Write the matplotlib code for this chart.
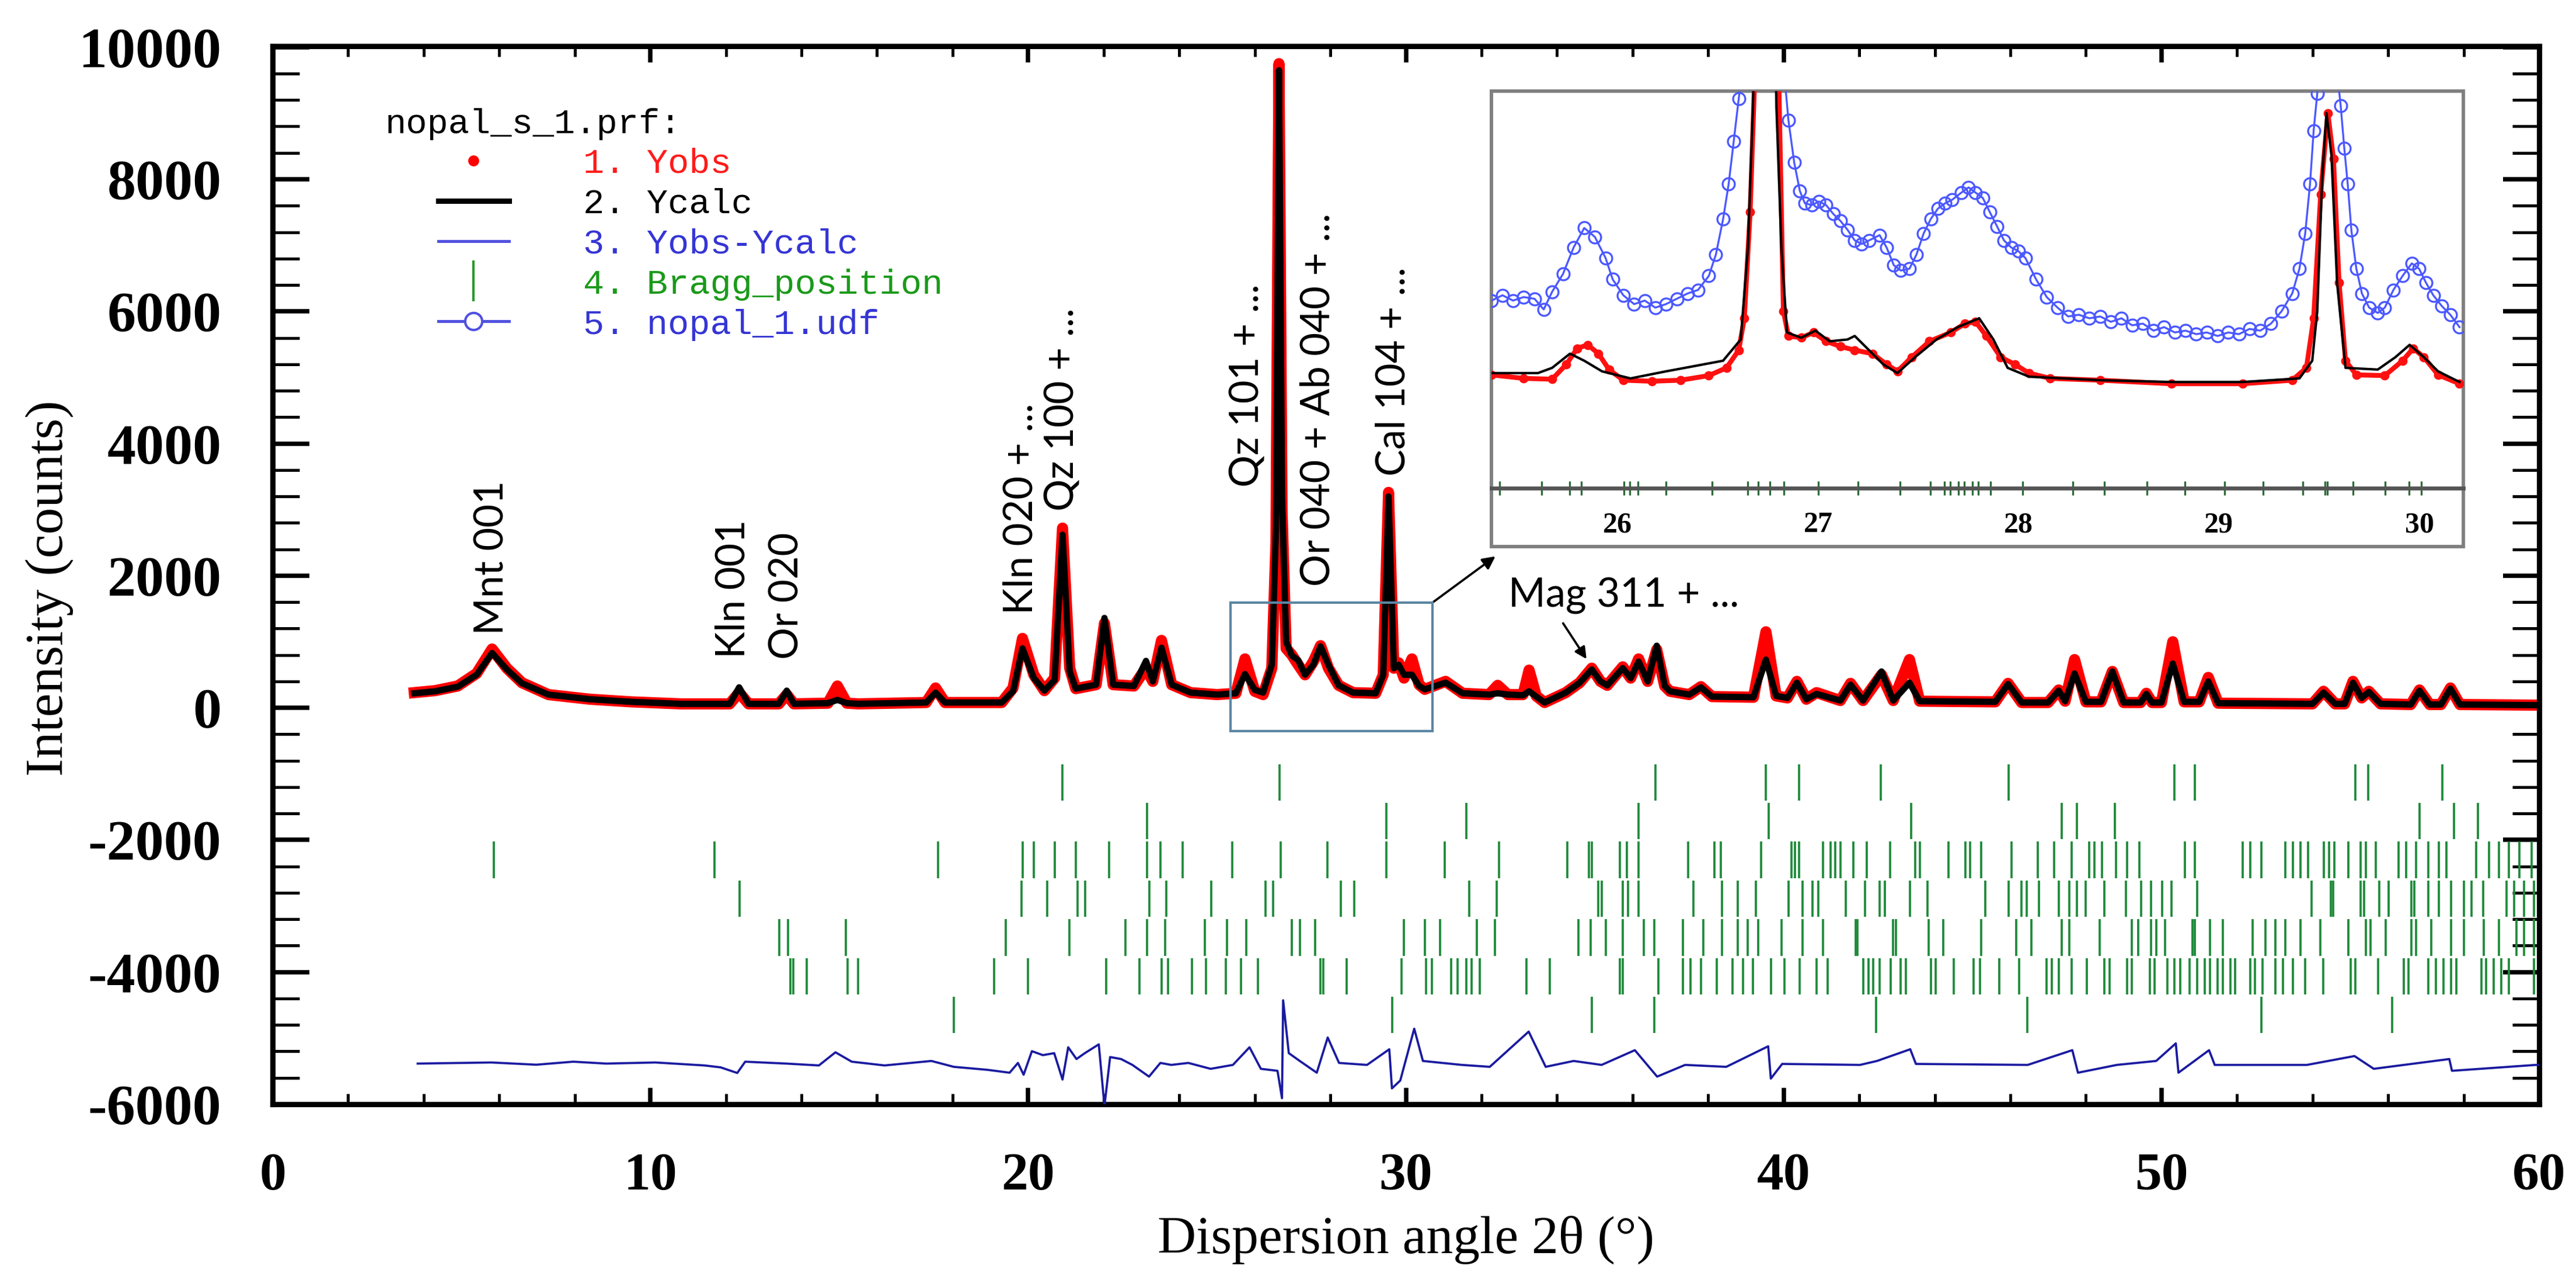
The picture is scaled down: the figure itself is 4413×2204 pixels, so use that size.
import matplotlib
matplotlib.use('Agg')
import matplotlib.pyplot as plt
from matplotlib.lines import Line2D
from matplotlib.patches import Rectangle

plt.rcParams['axes.unicode_minus'] = False

# ---------------- main Rietveld pattern (2theta in deg, counts) ----------------
two_theta = [3.75, 4.3, 4.9, 5.4, 5.81, 6.2, 6.6, 7.3, 8.4, 9.5, 10.8, 12.1, 12.35, 12.6,
             13.4, 13.61, 13.8, 14.7, 14.95, 15.2, 15.5, 17.3, 17.55, 17.8, 19.3, 19.6,
             19.85, 20.15, 20.43, 20.7, 20.91, 21.1, 21.26, 21.8, 22.02, 22.25, 22.8, 23.12,
             23.3, 23.53, 23.8, 24.3, 25.0, 25.5, 25.74, 26.0, 26.22, 26.45, 26.56, 26.64,
             26.72, 26.83, 26.98, 27.15, 27.33, 27.55, 27.74, 27.95, 28.22, 28.6, 29.2, 29.4,
             29.54, 29.68, 29.81, 29.95, 30.16, 30.35, 30.5, 31.05, 31.5, 32.2, 32.43, 32.7,
             33.1, 33.26, 33.45, 33.67, 34.23, 34.6, 34.92, 35.15, 35.33, 35.74, 35.95, 36.16,
             36.4, 36.64, 36.85, 36.99, 37.5, 37.81, 38.1, 39.2, 39.53, 39.8, 40.1, 40.35,
             40.6, 40.87, 41.5, 41.77, 42.1, 42.59, 42.9, 43.33, 43.6, 45.6, 45.94, 46.3,
             47.0, 47.28, 47.45, 47.7, 48.0, 48.4, 48.7, 49.0, 49.45, 49.6, 49.75, 50.0,
             50.3, 50.6, 51.0, 51.24, 51.5, 54.0, 54.29, 54.6, 54.85, 55.07, 55.3, 55.49,
             55.8, 56.6, 56.83, 57.1, 57.4, 57.65, 57.9, 60.0]
y_obs = [230, 260, 330, 520, 890, 600, 380, 200, 130, 90, 60, 60, 230, 60,
         60, 200, 60, 70, 330, 70, 60, 80, 300, 80, 80, 300,
         1050, 500, 260, 450, 2720, 600, 290, 350, 1280, 350, 330, 600,
         400, 1020, 350, 230, 200, 220, 740, 250, 200, 600, 2500, 9750,
         3000, 900, 800, 650, 500, 700, 940, 600, 340, 230, 220, 500,
         3260, 600, 680, 450, 740, 350, 280, 400, 220, 200, 340, 200,
         200, 570, 180, 80, 230, 380, 600, 400, 340, 620, 450, 740,
         400, 880, 330, 250, 200, 320, 170, 160, 1150, 180, 150, 400,
         130, 230, 110, 370, 110, 500, 110, 730, 100, 90, 370, 80,
         80, 270, 100, 730, 90, 90, 550, 80, 80, 220, 80, 80,
         1000, 90, 90, 460, 70, 60, 250, 60, 60, 400, 150, 250,
         60, 50, 270, 50, 50, 300, 50, 40]
y_calc = [220, 250, 320, 500, 830, 580, 370, 200, 130, 90, 60, 60, 310, 60,
          60, 260, 60, 70, 120, 70, 60, 80, 230, 80, 80, 250,
          900, 450, 260, 420, 2620, 550, 290, 350, 1360, 350, 330, 710,
          400, 910, 350, 230, 200, 220, 510, 270, 230, 650, 2700, 9650,
          3200, 1000, 790, 720, 500, 650, 930, 650, 340, 230, 220, 500,
          3200, 600, 650, 500, 500, 330, 280, 380, 220, 200, 220, 200,
          190, 250, 170, 80, 230, 380, 580, 400, 340, 600, 450, 700,
          400, 940, 330, 250, 200, 310, 170, 160, 730, 180, 150, 380,
          130, 210, 110, 350, 110, 550, 110, 380, 100, 90, 360, 80,
          80, 260, 100, 520, 90, 90, 550, 80, 80, 210, 80, 80,
          670, 90, 90, 400, 70, 60, 230, 60, 60, 380, 150, 240,
          60, 50, 260, 50, 50, 290, 50, 40]

# difference curve Yobs-Ycalc, shifted down as in the plot
two_theta_diff = [3.84, 5.79, 6.98, 7.96, 8.83, 10.13, 11.43, 11.86, 12.30, 12.51, 13.60,
                  14.46, 14.90, 15.33, 16.2, 17.44, 18.03, 18.92, 19.51, 19.73, 19.88, 20.10,
                  20.39, 20.69, 20.91, 21.06, 21.28, 21.50, 21.87, 22.02, 22.17, 22.46, 22.76,
                  23.20, 23.50, 23.79, 24.24, 24.83, 25.42, 25.86, 26.16, 26.60, 26.72, 26.75,
                  26.90, 27.19, 27.64, 27.93, 28.23, 28.97, 29.56, 29.63, 29.85, 30.22, 30.45,
                  31.48, 32.22, 33.25, 33.70, 34.44, 35.18, 36.06, 36.65, 37.39, 38.48, 39.59,
                  39.66, 39.96, 42.02, 42.47, 43.35, 43.50, 46.46, 47.64, 47.79, 48.82, 49.86,
                  50.38, 50.45, 51.26, 51.41, 53.85, 55.11, 55.62, 57.62, 57.69, 59.91, 60.0]
y_diff = [-5385, -5368, -5402, -5356, -5385, -5368, -5413, -5442, -5527, -5356, -5385,
          -5413, -5214, -5356, -5413, -5345, -5434, -5479, -5523, -5375, -5553, -5197,
          -5257, -5227, -5627, -5138, -5316, -5227, -5094, -6027, -5286, -5316, -5405,
          -5582, -5375, -5405, -5375, -5464, -5405, -5138, -5464, -5494, -5909, -4427,
          -5227, -5345, -5523, -4990, -5375, -5405, -5168, -5760, -5642, -4857, -5345,
          -5405, -5434, -4901, -5434, -5345, -5405, -5182, -5582, -5405, -5434, -5123,
          -5612, -5390, -5405, -5345, -5168, -5390, -5405, -5182, -5523, -5405, -5345,
          -5079, -5523, -5182, -5405, -5405, -5271, -5464, -5316, -5494, -5405, -5405]

# Bragg positions, one list per phase row (top to bottom)
bragg_a = [20.91, 26.66, 36.60, 39.52, 40.40, 42.57, 45.96, 50.35, 50.88, 55.14, 55.47, 57.44]
bragg_b = [23.15, 29.49, 31.60, 36.16, 39.61, 43.37, 47.36, 47.76, 48.76, 56.83, 57.74, 58.37]
bragg_c = [5.86, 11.69, 17.61, 19.85, 20.15, 20.71, 21.26, 22.15, 23.15, 23.51, 24.09, 25.40,
           26.68, 27.92, 29.49, 31.02, 32.47, 34.27, 34.85, 34.92, 35.67, 35.85, 36.16, 37.47,
           38.16, 38.34, 39.40, 40.20, 40.30, 40.41, 41.04, 41.24, 41.37, 41.51, 41.84, 42.20,
           42.81, 43.48, 43.61, 44.37, 44.81, 44.94, 45.23, 46.03, 46.72, 47.16, 47.63, 48.09,
           48.22, 48.42, 48.80, 49.09, 49.42, 50.62, 50.88, 52.15, 52.35, 52.65, 53.28, 53.48,
           53.68, 53.88, 54.30, 54.44, 54.57, 54.94, 55.27, 55.41, 55.67, 56.27, 56.47, 56.74,
           57.07, 57.34, 57.54, 58.33, 58.67, 58.93, 59.20, 59.47, 59.80]
bragg_d = [12.36, 19.83, 20.51, 21.31, 21.51, 23.21, 23.66, 24.84, 26.28, 26.48, 28.27, 28.64,
           31.67, 32.40, 35.09, 35.19, 35.74, 35.88, 36.16, 37.61, 38.36, 38.78, 39.26, 40.13,
           40.50, 40.77, 40.91, 41.64, 42.15, 42.54, 42.68, 43.34, 43.81, 45.34, 45.96, 46.30,
           46.43, 46.76, 47.29, 47.56, 47.76, 48.00, 48.49, 49.06, 49.46, 49.73, 50.02, 50.26,
           50.95, 53.98, 54.48, 54.54, 55.27, 55.37, 55.77, 56.01, 56.61, 56.70, 57.07, 57.34,
           57.67, 58.00, 58.20, 58.51, 59.13, 59.33, 59.60, 59.86]
bragg_e = [13.42, 13.64, 15.18, 19.40, 21.09, 22.57, 23.15, 23.63, 24.68, 25.26, 25.77, 26.98,
           27.19, 27.60, 29.95, 30.50, 30.91, 31.88, 32.36, 34.57, 34.89, 35.30, 35.74, 36.30,
           36.57, 37.33, 37.88, 38.36, 38.78, 39.05, 39.33, 39.95, 40.50, 41.04, 41.91, 41.95,
           42.90, 42.97, 43.83, 44.23, 45.23, 46.16, 46.56, 47.36, 47.56, 48.36, 49.22, 49.38,
           49.73, 49.86, 50.09, 50.82, 50.88, 51.28, 51.62, 52.41, 52.75, 53.01, 53.28, 53.68,
           54.21, 54.94, 55.41, 55.54, 55.94, 56.61, 56.74, 57.14, 57.67, 58.00, 58.53, 58.93,
           59.40, 59.60, 59.86]
bragg_f = [13.70, 13.78, 14.14, 15.22, 15.50, 19.10, 19.99, 22.06, 22.94, 23.53, 23.71, 24.33,
           24.71, 25.23, 25.64, 26.09, 27.74, 27.81, 28.43, 29.88, 30.54, 30.68, 31.19, 31.37,
           31.60, 31.74, 31.95, 33.19, 33.81, 35.67, 35.74, 36.68, 37.33, 37.54, 37.81, 38.23,
           38.64, 38.92, 39.19, 39.67, 40.02, 40.43, 40.87, 41.17, 42.11, 42.24, 42.37, 42.54,
           42.84, 43.10, 43.24, 43.90, 44.03, 44.50, 45.03, 45.20, 45.70, 46.23, 46.96, 47.09,
           47.29, 47.63, 48.03, 48.49, 48.62, 49.09, 49.22, 49.69, 49.82, 50.15, 50.35, 50.49,
           50.75, 50.95, 51.15, 51.28, 51.48, 51.62, 51.82, 51.95, 52.35, 52.48, 52.68, 53.01,
           53.21, 53.48, 53.81, 54.28, 55.01, 55.14, 55.74, 56.41, 56.54, 57.07, 57.27, 57.47,
           57.67, 57.80, 58.47, 58.60, 58.80, 59.00, 59.20, 59.86]
bragg_g = [18.04, 29.64, 34.92, 36.57, 42.44, 46.45, 52.65, 56.11]
bragg_rows = [bragg_a, bragg_b, bragg_c, bragg_d, bragg_e, bragg_f, bragg_g]
bragg_row_top = [-853, -1440, -2027, -2614, -3201, -3788, -4375]
bragg_tick = 551

# extra reflection marks seen only on the inset axis line
inset_bragg = [25.41, 25.62, 25.76, 25.82, 26.03, 26.06, 26.10, 26.24, 26.47, 26.65, 26.70,
               26.76, 26.83, 27.00, 27.20, 27.41, 27.56, 27.63, 27.66, 27.70, 27.73, 27.77,
               27.80, 27.86, 28.02, 28.27, 28.43, 28.64, 28.83, 29.03, 29.22, 29.42, 29.53,
               29.54, 29.67, 29.83, 29.95, 30.01]

# ---------------- inset 25.4 - 30.2 deg ----------------
inset_x_blue = [25.371, 25.425, 25.478, 25.531, 25.585, 25.631, 25.673, 25.727, 25.780, 25.833,
                25.886, 25.940, 25.975, 26.028, 26.082, 26.135, 26.188, 26.241, 26.295, 26.348,
                26.401, 26.455, 26.490, 26.526, 26.554, 26.579, 26.604, 26.632, 26.70, 26.827,
                26.852, 26.881, 26.909, 26.934, 26.969, 27.005, 27.040, 27.076, 27.112, 27.147,
                27.183, 27.218, 27.254, 27.307, 27.342, 27.378, 27.413, 27.456, 27.491, 27.527,
                27.562, 27.598, 27.634, 27.669, 27.715, 27.751, 27.786, 27.822, 27.857, 27.893,
                27.928, 27.964, 27.999, 28.035, 28.088, 28.141, 28.195, 28.248, 28.301, 28.354,
                28.408, 28.461, 28.514, 28.567, 28.621, 28.674, 28.727, 28.780, 28.834, 28.887,
                28.940, 28.994, 29.047, 29.100, 29.153, 29.207, 29.260, 29.313, 29.366, 29.402,
                29.431, 29.455, 29.473, 29.491, 29.53, 29.608, 29.626, 29.643, 29.661, 29.686,
                29.714, 29.750, 29.793, 29.828, 29.871, 29.917, 29.963, 29.999, 30.034, 30.070,
                30.112, 30.155, 30.201]
inset_blue = [994, 1056, 994, 1035, 1015, 891, 1097, 1303, 1612, 1839,
              1736, 1488, 1241, 1056, 953, 994, 912, 953, 1015, 1076,
              1118, 1282, 1530, 1942, 2354, 2848, 3342, 3878, 9000, 3754,
              3095, 2601, 2271, 2127, 2106, 2148, 2106, 2003, 1921, 1818,
              1694, 1653, 1694, 1756, 1612, 1406, 1344, 1365, 1530, 1777,
              1942, 2065, 2127, 2168, 2251, 2312, 2251, 2189, 2024, 1859,
              1694, 1612, 1571, 1488, 1241, 1035, 912, 809, 829, 788,
              809, 747, 788, 706, 726, 644, 685, 623, 644, 603,
              623, 582, 623, 603, 664, 644, 726, 870, 1076, 1365,
              1777, 2354, 2972, 3404, 5000, 3260, 2766, 2354, 1818, 1365,
              1076, 912, 850, 912, 1118, 1282, 1427, 1365, 1200, 1056,
              932, 829, 685]
inset_x_obs = [25.371, 25.531, 25.673, 25.744, 25.798, 25.851, 25.904, 25.957, 26.028, 26.170,
               26.313, 26.455, 26.543, 26.604, 26.632, 26.661, 26.685, 26.74, 26.803, 26.827,
               26.852, 26.916, 26.977, 27.040, 27.112, 27.183, 27.271, 27.342, 27.396, 27.467,
               27.556, 27.662, 27.733, 27.786, 27.840, 27.911, 27.982, 28.053, 28.159, 28.408,
               28.763, 29.118, 29.366, 29.437, 29.473, 29.508, 29.544, 29.572, 29.600, 29.632,
               29.686, 29.828, 29.917, 29.970, 30.023, 30.094, 30.201]
inset_obs = [129, 88, 79, 252, 438, 479, 376, 191, 67, 55,
             67, 121, 211, 417, 788, 2024, 3672, 9700, 3672, 870,
             582, 561, 623, 520, 459, 417, 376, 252, 170, 335,
             520, 623, 726, 747, 582, 335, 252, 149, 88, 67,
             26, 26, 67, 211, 788, 2230, 3178, 2642, 1200, 294,
             129, 121, 294, 438, 335, 129, 26]
inset_x_calc = [25.371, 25.602, 25.673, 25.762, 25.833, 25.922, 26.064, 26.241, 26.384, 26.526,
                26.614, 26.650, 26.675, 26.74, 26.792, 26.817, 26.845, 26.916, 26.987, 27.058,
                27.147, 27.183, 27.236, 27.325, 27.396, 27.484, 27.591, 27.697, 27.804, 27.875,
                27.946, 28.053, 28.408, 28.763, 29.118, 29.402, 29.466, 29.491, 29.516, 29.537,
                29.562, 29.590, 29.632, 29.793, 29.881, 29.952, 30.023, 30.094, 30.201]
inset_calc = [150, 150, 211, 376, 294, 170, 88, 170, 232, 294,
              541, 1612, 3260, 9700, 3260, 1612, 623, 561, 644, 520,
              541, 582, 459, 252, 150, 335, 541, 685, 788, 541,
              211, 108, 67, 46, 46, 88, 294, 870, 2436, 3178,
              2683, 1200, 211, 191, 335, 479, 335, 170, 46]

# peak annotations (rotated), x = 2theta, y = counts at label start
peak_labels = ['Mnt 001', 'Kln 001', 'Or 020', 'Kln 020 + ...', 'Qz 100 + ...',
               'Qz 101 + ...', 'Or 040 + Ab 040 + ...', 'Cal 104 + ...']
peak_label_x = [5.81, 12.19, 13.61, 19.81, 20.91, 25.81, 27.67, 29.67]
peak_label_y = [1102, 756, 738, 1413, 2978, 3342, 1840, 3511]

# ---------------- figure ----------------
W, H, DPI = 4413, 2204, 300
fig = plt.figure(figsize=(W / DPI, H / DPI), dpi=DPI)
ax = fig.add_axes([467 / W, 1 - 1891 / H, 3883 / W, 1812 / H])

serif = 'Liberation Serif'
mono = 'Liberation Mono'
sans = 'Lato'

ax.plot(two_theta, y_obs, color='#ff0000', lw=4.6, solid_joinstyle='round', zorder=2)
ax.plot(two_theta, y_calc, color='black', lw=2.6, zorder=3)
ax.plot(two_theta_diff, y_diff, color='#1a1aa0', lw=0.9, zorder=3)
for row, top in zip(bragg_rows, bragg_row_top):
    ax.vlines(row, top - bragg_tick, top, color='#1f8a3a', lw=0.9, zorder=2)

ax.set_xlim(0, 60)
ax.set_ylim(-6000, 10015)
ax.set_xticks(range(0, 61, 10))
ax.set_xticklabels([str(v) for v in range(0, 61, 10)], fontfamily=serif, fontweight='bold')
ax.set_xticks(range(0, 61, 2), minor=True)
ax.set_yticks(range(-6000, 10001, 2000))
ax.set_yticklabels([str(v) for v in range(-6000, 10001, 2000)], fontfamily=serif, fontweight='bold')
ax.set_yticks(range(-6000, 10001, 400), minor=True)
ax.tick_params(which='both', direction='in', top=True, right=True, colors='black')
ax.tick_params(axis='y', which='major', length=15, width=1.8, pad=21, labelsize=23.5)
ax.tick_params(axis='y', which='minor', length=11, width=1.2)
ax.tick_params(axis='x', which='major', length=6.7, width=1.8, pad=20, labelsize=22)
ax.tick_params(axis='x', which='minor', length=4.3, width=1.2)
for s in ax.spines.values():
    s.set_linewidth(2.2)

ax.set_xlabel('Dispersion angle 2θ (°)', fontfamily=serif, fontsize=22)
ax.set_ylabel('Intensity (counts)', fontfamily=serif, fontsize=22)
ax.xaxis.set_label_coords(0.5, -0.128)
ax.xaxis.label.set_va('center')
ax.yaxis.set_label_coords(-0.0986, 0.488)
ax.yaxis.label.set_va('center')

for txt, x, y in zip(peak_labels, peak_label_x, peak_label_y):
    ax.text(x, y, txt, rotation=90, ha='center', va='bottom', fontfamily=sans, fontsize=16.5)

ax.text(32.71, 1529, 'Mag 311 + ...', ha='left', va='baseline', fontfamily=sans, fontsize=16.5)
ax.annotate('', xy=(34.78, 738), xytext=(34.16, 1280),
            arrowprops=dict(arrowstyle='-|>', color='black', lw=0.9, mutation_scale=10,
                            shrinkA=0, shrinkB=0))

# zoom box and arrow to inset
ax.add_patch(Rectangle((25.36, -356), 30.70 - 25.36, 1591 + 356, fill=False,
                       edgecolor='#5b86a3', lw=1.0, zorder=5))
ax.annotate('', xy=(32.37, 2293), xytext=(30.70, 1591),
            arrowprops=dict(arrowstyle='-|>', color='black', lw=0.9, mutation_scale=11,
                            shrinkA=0, shrinkB=0))

# legend
ax.text(0.0497, 0.9266, 'nopal_s_1.prf:', transform=ax.transAxes, fontfamily=mono,
        fontsize=14.5, ha='left', va='center')
handles = [Line2D([], [], ls='none', marker='o', ms=3.5, color='#ff0000'),
           Line2D([], [], color='black', lw=2.2),
           Line2D([], [], color='#5050e0', lw=1.2),
           Line2D([], [], ls='none', marker='|', ms=17, mew=1.0, color='#2a9a2a'),
           Line2D([], [], color='#5050e0', lw=1.2, marker='o', ms=7, mfc='white', mew=1.0)]
labels = ['1. Yobs', '2. Ycalc', '3. Yobs-Ycalc', '4. Bragg_position', '5. nopal_1.udf']
leg = ax.legend(handles, labels, loc='upper left', bbox_to_anchor=(0.0731, 0.9040),
                frameon=False, prop={'family': mono, 'size': 14.5}, handlelength=2.0,
                handletextpad=2.1, labelspacing=0.23, borderpad=0, borderaxespad=0)
for t, c in zip(leg.get_texts(), ['#ff1a1a', 'black', '#3535d5', '#1a9a1a', '#3535d5']):
    t.set_color(c)

# inset
box = Rectangle((2555 / W, 1 - 936 / H), 1665 / W, 780 / H, transform=fig.transFigure,
                facecolor='white', edgecolor='#7f7f7f', lw=1.4, zorder=2)
fig.add_artist(box)
ins = fig.add_axes([2555 / W, 1 - 836 / H, 1665 / W, 680 / H], zorder=3)
ins.set_facecolor('none')
ins.plot(inset_x_blue, inset_blue, color='#4b58ff', lw=0.8, marker='o', ms=5, mfc='none', mew=0.8)
ins.plot(inset_x_obs, inset_obs, color='#ff1010', lw=2.0, marker='o', ms=2.8)
ins.plot(inset_x_calc, inset_calc, color='black', lw=1.0)
ins.set_xlim(25.37, 30.22)
ins.set_ylim(-1190, 3433)
ins.vlines(inset_bragg, -1270, -1110, color='#2d6b3a', lw=0.8, clip_on=False)
for side in ['top', 'left', 'right']:
    ins.spines[side].set_visible(False)
ins.spines['bottom'].set_color('#555555')
ins.spines['bottom'].set_linewidth(1.6)
ins.set_yticks([])
ins.set_xticks([26, 27, 28, 29, 30])
ins.set_xticklabels(['26', '27', '28', '29', '30'], fontfamily=serif, fontweight='bold')
ins.tick_params(axis='x', length=0, pad=9.6, labelsize=12)

fig.savefig('out.png', dpi=DPI, facecolor='white')
